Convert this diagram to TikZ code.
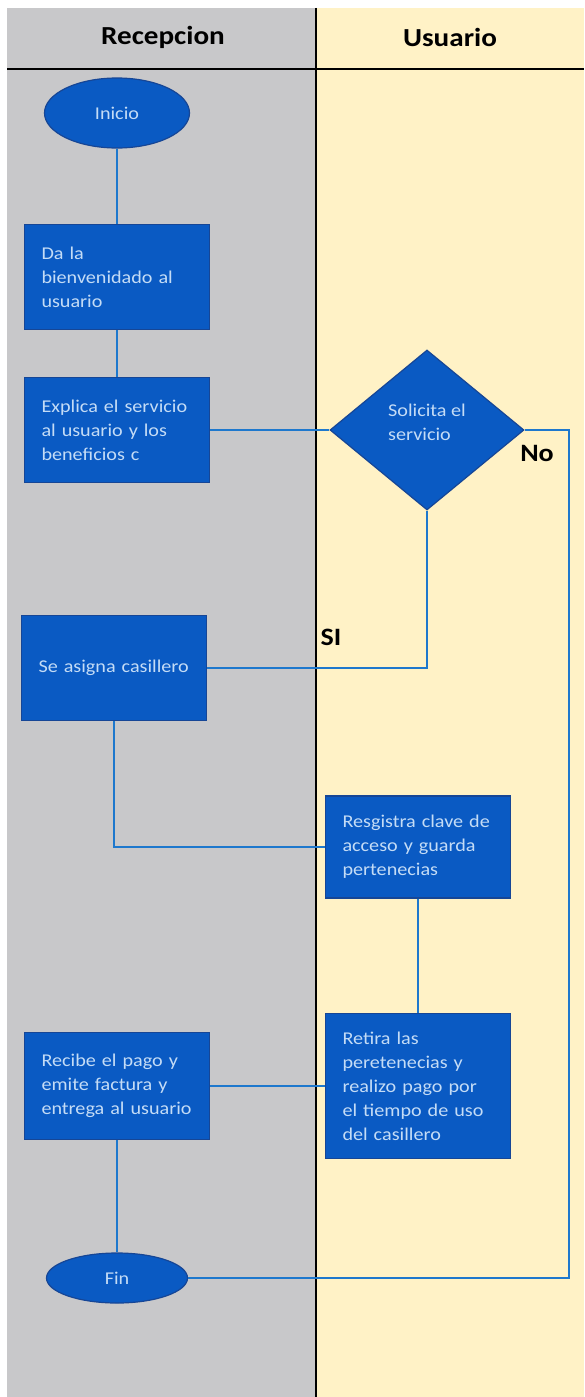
\documentclass[tikz,border=0pt]{standalone}
\usepackage{fontspec}
\setmainfont{Carlito}[FakeStretch=1.12]
\usetikzlibrary{shapes.geometric}
\definecolor{carrilgris}{RGB}{200,200,202}
\definecolor{carrilcrema}{RGB}{255,242,198}
\definecolor{azulcaja}{RGB}{10,90,195}
\definecolor{bordecaja}{RGB}{22,70,150}
\definecolor{textocaja}{RGB}{196,220,246}
\definecolor{linea}{RGB}{30,120,205}

\begin{document}
\begin{tikzpicture}[x=1pt,y=-1pt]
    \tikzstyle{every node}=[font=\fontsize{18}{24}\selectfont,text=textocaja]
    \tikzstyle{caja}=[draw=bordecaja,line width=1.2pt,fill=azulcaja,rectangle,text width=151pt,align=left,inner xsep=17pt,inner ysep=0pt]
    \tikzstyle{terminal}=[draw=bordecaja,line width=1.2pt,fill=azulcaja,ellipse,inner sep=0pt]
    \tikzstyle{rombo}=[draw=bordecaja,line width=1.2pt,fill=azulcaja,diamond,inner sep=0pt,minimum width=194pt,minimum height=160pt,align=left]
    \tikzstyle{conector}=[draw=linea,line width=1.6pt]
    \tikzstyle{etiqueta}=[font=\fontsize{25}{29}\selectfont\bfseries,text=black]
    \useasboundingbox (0,0) rectangle (584,1397);
    %%% LANES
    \fill[white] (0,0) rectangle (584,1397);
    \fill[carrilgris] (7,8) rectangle (316,1397);
    \fill[carrilcrema] (316,8) rectangle (584,1397);
    \draw[line width=2pt] (7,69) -- (584,69);
    \draw[line width=1.5pt] (316,8) -- (316,1397);
    \node at (163,37) [etiqueta,font=\fontsize{26}{30}\selectfont\bfseries] (RECEPCION) {Recepcion};
    \node at (450,37) [etiqueta,font=\fontsize{26}{30}\selectfont\bfseries] (USUARIO) {Usuario};
    % Recepcion
    \node at (117,113) [terminal,minimum width=145pt,minimum height=70pt] (INICIO) {Inicio};
    \node at (117,277) [caja,minimum height=105pt] (BIENVENIDA) {Da la\\bienvenidado al\\usuario};
    \node at (117,430) [caja,minimum height=105pt] (EXPLICA) {Explica el servicio\\al usuario y los\\beneficios c};
    \node at (114,668) [caja,minimum height=105pt] (ASIGNA) {Se asigna casillero};
    \node at (117,1086) [caja,minimum height=107pt] (RECIBE) {Recibe el pago y\\emite factura y\\entrega al usuario};
    \node at (117,1278) [terminal,minimum width=141pt,minimum height=50pt] (FIN) {Fin};
    % Usuario
    \node at (427,430) [rombo] (SOLICITA) {Solicita el\\servicio\\[-8pt]};
    \node at (418,847) [caja,minimum height=102pt] (REGISTRA) {Resgistra clave de\\acceso y guarda\\pertenecias};
    \node at (418,1086) [caja,minimum height=145pt] (RETIRA) {Retira las\\peretenecias y\\realizo pago por\\el tiempo de uso\\del casillero};
    \coordinate (NOESQ) at (569,1278);
    \node at (537,453) [etiqueta] (NO) {No};
    \node at (331,637) [etiqueta] (SI) {SI};

    \path[conector]
    (INICIO) edge (BIENVENIDA)
    (BIENVENIDA) edge (EXPLICA)
    (EXPLICA) edge (SOLICITA)
    (RETIRA) edge (RECIBE)
    (RECIBE) edge (FIN);
    \draw[conector] (SOLICITA.east) -| (NOESQ) -- (FIN.east);
    \draw[conector] (SOLICITA.south) |- (ASIGNA.east);
    \draw[conector] (ASIGNA.south) |- (REGISTRA.west);
    \draw[conector] (REGISTRA) -- (RETIRA);
\end{tikzpicture}
\end{document}
